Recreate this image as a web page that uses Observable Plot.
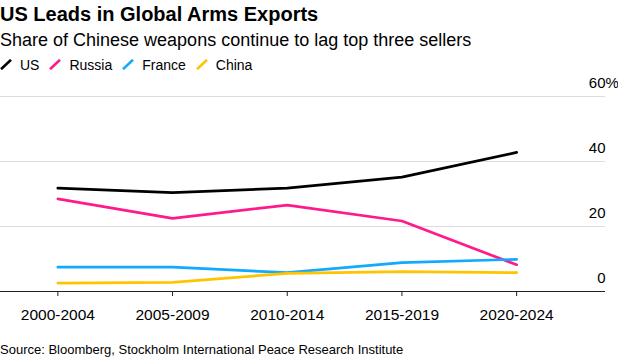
<!DOCTYPE html>
<html>
<head>
<meta charset="utf-8">
<script src="https://cdn.jsdelivr.net/npm/d3@7"></script>
<script src="https://cdn.jsdelivr.net/npm/@observablehq/plot@0.6"></script>
<style>
  html, body { margin: 0; padding: 0; background: #fff; }
  body { width: 618px; height: 358px; position: relative; overflow: hidden;
         font-family: "Liberation Sans", Arial, sans-serif; color: #000; }
  .abs { position: absolute; left: 0; white-space: nowrap; }
  #title { top: 4px; font-size: 20px; line-height: 20px; font-weight: bold; }
  #subtitle { top: 31px; font-size: 18px; line-height: 18px; }
  #legend { top: 58px; font-size: 14px; line-height: 14px; }
  #legend .item { display: inline-block; margin-right: 10px; }
  #legend svg { vertical-align: baseline; margin-right: 8px; }
  #chart { top: 72px; }
  #source { top: 343px; font-size: 13px; line-height: 13px; }
</style>
</head>
<body>
<div id="title" class="abs">US Leads in Global Arms Exports</div>
<div id="subtitle" class="abs">Share of Chinese weapons continue to lag top three sellers</div>
<div id="legend" class="abs"></div>
<div id="chart" class="abs"></div>
<div id="source" class="abs">Source: Bloomberg, Stockholm International Peace Research Institute</div>
<script>
const periods = ["2000-2004", "2005-2009", "2010-2014", "2015-2019", "2020-2024"];
const us      = [31.8, 30.4, 31.8, 35.2, 42.8];
const russia  = [28.5, 22.5, 26.6, 21.7, 8.2];
const france  = [7.5, 7.5, 5.8, 8.9, 9.9];
const china   = [2.6, 2.8, 5.6, 6.1, 5.8];
const seriesNames  = ["US", "Russia", "France", "China"];
const seriesColors = ["#000000", "#ff1a8c", "#12a9ff", "#ffc400"];
const yTicks = [0, 20, 40, 60];

const seriesValues = [us, russia, france, china];
const data = [];
seriesNames.forEach((name, s) => {
  periods.forEach((p, i) => data.push({series: name, period: p, value: seriesValues[s][i]}));
});

// Legend
const legend = document.getElementById("legend");
seriesNames.forEach((name, i) => {
  const item = document.createElement("span");
  item.className = "item";
  item.innerHTML = `<svg width="12" height="11" viewBox="0 0 12 11"><line x1="1" y1="10.2" x2="11" y2="0.8" stroke="${seriesColors[i]}" stroke-width="2.6"/></svg>${name}`;
  legend.appendChild(item);
});

const chart = Plot.plot({
  width: 618,
  height: 260,
  marginLeft: 0,
  marginRight: 13,
  marginTop: 24,
  marginBottom: 41,
  style: {fontFamily: '"Liberation Sans", Arial, sans-serif', color: "#000", background: "transparent", overflow: "visible"},
  x: {type: "point", domain: periods, padding: 0.5, insetRight: 31.5, round: false, label: null},
  y: {domain: [0, 60], label: null},
  color: {domain: seriesNames, range: seriesColors},
  marks: [
    Plot.ruleY(yTicks.filter(d => d > 0), {stroke: "#dcdcdc", strokeWidth: 1.2}),
    Plot.ruleY([0], {stroke: "#222", strokeWidth: 1}),
    Plot.axisX({tickSize: 5, tickPadding: 12, fontSize: 15.5, stroke: "#222", fill: "#000"}),
    Plot.axisY({ticks: yTicks, anchor: "right", tickSize: 0, tickPadding: 0, textAnchor: "end",
                dy: -13, fontSize: 15, fill: "#000", tickFormat: d => String(d)}),
    Plot.text([60], {y: d => d, text: () => "%", frameAnchor: "right", textAnchor: "start",
                     dy: -13, fontSize: 15, fill: "#000"}),
    Plot.line(data, {x: "period", y: "value", z: "series", stroke: "series", strokeWidth: 2.7})
  ]
});
document.getElementById("chart").appendChild(chart);
</script>
</body>
</html>
